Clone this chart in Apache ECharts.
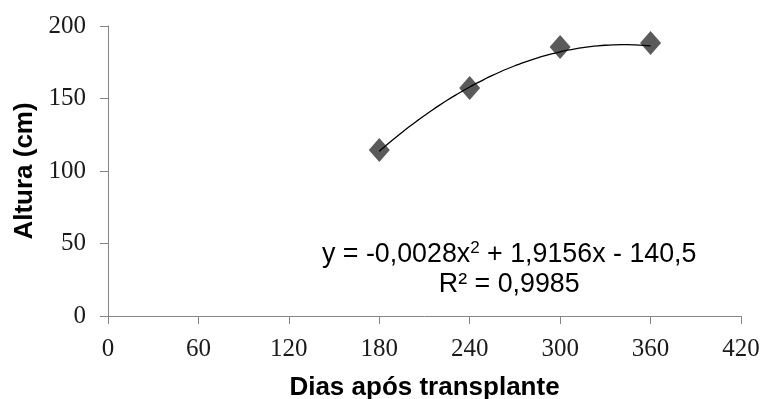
<!DOCTYPE html>
<html>
<head>
<meta charset="utf-8">
<script src="https://cdn.jsdelivr.net/npm/echarts@6/dist/echarts.min.js"></script>
<style>
  html, body { margin: 0; padding: 0; background: #fff; }
  #chart { width: 765px; height: 399px; }
</style>
</head>
<body>
<div id="chart"></div>
<script>
// Measured plant height by days after transplanting
const days = [180, 240, 300, 360];
const heights = [114.5, 157.2, 185.5, 188.3];

// Axis ticks
const xTicks = [0, 60, 120, 180, 240, 300, 360, 420];
const yTicks = [0, 50, 100, 150, 200];

// Fitted quadratic trend: y = a*x^2 + b*x + c
const trendCoef = [-0.0028, 1.9156, -140.5];
const trendRange = [180, 360];

const trend = [];
for (let x = trendRange[0]; x <= trendRange[1]; x += 5) {
  trend.push([x, trendCoef[0] * x * x + trendCoef[1] * x + trendCoef[2]]);
}

const chart = echarts.init(document.getElementById('chart'), null, { renderer: 'canvas' });

const axisGray = '#868686';
const serif = '"Liberation Serif", "Times New Roman", serif';
const sans = '"Liberation Sans", Arial, sans-serif';

chart.setOption({
  animation: false,
  backgroundColor: '#ffffff',
  grid: { left: 108, right: 24, top: 26, bottom: 83, containLabel: false, outerBoundsMode: 'none' },
  xAxis: {
    type: 'value',
    min: xTicks[0],
    max: xTicks[xTicks.length - 1],
    interval: 60,
    name: 'Dias após transplante',
    nameLocation: 'middle',
    nameGap: 59,
    nameTextStyle: { fontFamily: sans, fontWeight: 'bold', fontSize: 26, color: '#000' },
    axisLine: { show: true, lineStyle: { color: axisGray, width: 1 } },
    axisTick: { show: true, length: 8, lineStyle: { color: axisGray } },
    axisLabel: { fontFamily: serif, fontSize: 25, color: '#1a1a1a', margin: 21 },
    splitLine: { show: false }
  },
  yAxis: {
    type: 'value',
    min: yTicks[0],
    max: yTicks[yTicks.length - 1],
    interval: 50,
    name: 'Altura (cm)',
    nameLocation: 'middle',
    nameGap: 65,
    nameTextStyle: { fontFamily: sans, fontWeight: 'bold', fontSize: 26, color: '#000' },
    axisLine: { show: true, lineStyle: { color: axisGray, width: 1 } },
    axisTick: { show: true, length: 8, lineStyle: { color: axisGray } },
    axisLabel: { fontFamily: serif, fontSize: 25, color: '#1a1a1a', margin: 22 },
    splitLine: { show: false }
  },
  series: [
    {
      name: 'Altura',
      type: 'scatter',
      data: days.map((d, i) => [d, heights[i]]),
      symbol: 'diamond',
      symbolSize: [21, 24],
      itemStyle: { color: '#5a5a5a', opacity: 1 },
      z: 2
    },
    {
      name: 'Tendência',
      type: 'line',
      data: trend,
      showSymbol: false,
      smooth: true,
      lineStyle: { color: '#000', width: 1.3 },
      z: 3
    }
  ],
  graphic: [
    {
      type: 'text',
      left: 322,
      top: 240,
      z: 10,
      style: {
        text: '{t|y = -0,0028x}{s|2}{t| + 1,9156x - 140,5}\n{t|R² = 0,9985}',
        textAlign: 'center',
        fill: '#000',
        rich: {
          t: { fontFamily: sans, fontSize: 26.8, lineHeight: 30, color: '#000', align: 'center' },
          s: { fontFamily: sans, fontSize: 17, lineHeight: 30, color: '#000', verticalAlign: 'top' }
        }
      }
    }
  ]
});
</script>
</body>
</html>
